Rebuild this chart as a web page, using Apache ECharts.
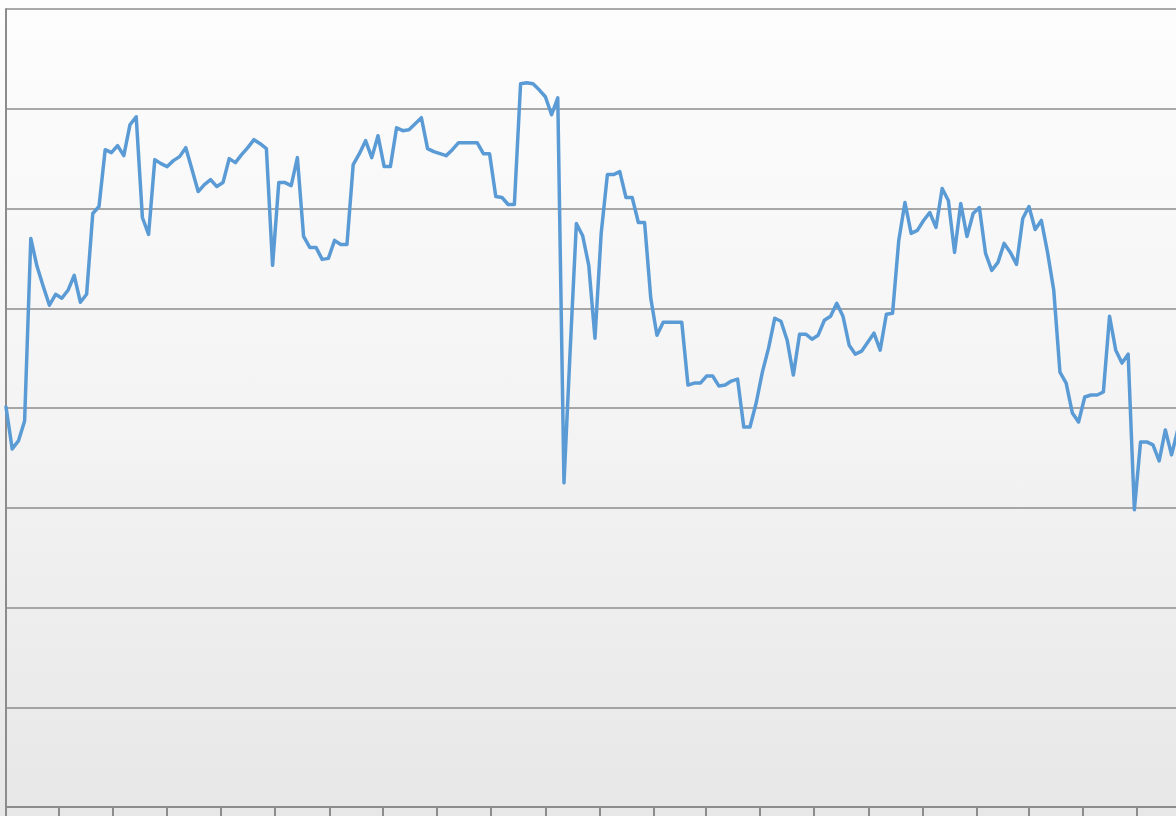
<!DOCTYPE html>
<html>
<head>
<meta charset="utf-8">
<script src="https://cdn.jsdelivr.net/npm/echarts@6/dist/echarts.min.js"></script>
<style>
  html, body { margin: 0; padding: 0; }
  #chart {
    width: 1176px; height: 816px;
    background: linear-gradient(to bottom, #fdfdfd 0%, #f4f4f4 50%, #e7e7e7 100%);
  }
</style>
</head>
<body>
<div id="chart"></div>
<script>
// Weekly series starting on this date
const startDate = '2011-01-01';
const axisEndDate = '2014-08-23';

// Weekly values (one per week)
const values = [
  40.1, 35.9, 36.7, 38.7, 57.0, 54.2, 52.2, 50.3, 51.4, 51.0,
  51.8, 53.3, 50.6, 51.4, 59.5, 60.2, 65.9, 65.6, 66.3, 65.3,
  68.4, 69.2, 59.1, 57.4, 64.9, 64.5, 64.2, 64.8, 65.2, 66.1,
  63.9, 61.7, 62.4, 62.9, 62.2, 62.6, 65.0, 64.6, 65.4, 66.1,
  66.9, 66.5, 66.0, 54.3, 62.6, 62.6, 62.3, 65.1, 57.2, 56.1,
  56.1, 54.9, 55.0, 56.8, 56.4, 56.4, 64.4, 65.5, 66.8, 65.1,
  67.3, 64.2, 64.2, 68.1, 67.8, 67.9, 68.5, 69.1, 66.0, 65.7,
  65.5, 65.3, 65.9, 66.6, 66.6, 66.6, 66.6, 65.5, 65.5, 61.2,
  61.1, 60.4, 60.4, 72.5, 72.6, 72.5, 71.9, 71.2, 69.4, 71.1,
  32.5, 45.8, 58.5, 57.3, 54.3, 47.0, 57.5, 63.4, 63.4, 63.7,
  61.1, 61.1, 58.6, 58.6, 51.0, 47.3, 48.6, 48.6, 48.6, 48.6,
  42.3, 42.5, 42.5, 43.2, 43.2, 42.2, 42.3, 42.7, 42.9, 38.1,
  38.1, 40.5, 43.6, 46.0, 49.0, 48.7, 46.8, 43.3, 47.4, 47.4,
  46.9, 47.3, 48.8, 49.2, 50.5, 49.2, 46.3, 45.4, 45.7, 46.6,
  47.5, 45.8, 49.4, 49.5, 56.8, 60.6, 57.5, 57.8, 58.8, 59.6,
  58.1, 62.0, 60.8, 55.6, 60.5, 57.2, 59.5, 60.1, 55.5, 53.8,
  54.6, 56.5, 55.6, 54.4, 59.0, 60.2, 57.9, 58.8, 55.6, 51.8,
  43.6, 42.5, 39.5, 38.6, 41.1, 41.3, 41.3, 41.6, 49.2, 45.8,
  44.5, 45.4, 29.8, 36.6, 36.6, 36.3, 34.7, 37.8, 35.3, 37.8
];

// Value axis range
const yMin = 0, yMax = 80, yStep = 10;

function fmt(d) {
  const m = String(d.getUTCMonth() + 1).padStart(2, '0');
  const day = String(d.getUTCDate()).padStart(2, '0');
  return d.getUTCFullYear() + '-' + m + '-' + day;
}

// Daily category list for the axis
const days = [];
{
  const d = new Date(startDate + 'T00:00:00Z');
  const end = new Date(axisEndDate + 'T00:00:00Z');
  while (d <= end) { days.push(fmt(d)); d.setUTCDate(d.getUTCDate() + 1); }
}
// Series points on weekly dates
const seriesData = values.map((v, i) => {
  const d = new Date(startDate + 'T00:00:00Z');
  d.setUTCDate(d.getUTCDate() + 7 * i);
  return [fmt(d), v];
});

const pxPerDay = 970.7 / 1096;
const chart = echarts.init(document.getElementById('chart'), null, { renderer: 'canvas' });
chart.setOption({
  backgroundColor: 'transparent',
  animation: false,
  grid: {
    left: 6, top: 9, bottom: 9,
    width: (days.length - 1) * pxPerDay,
    outerBoundsMode: 'none',
    containLabel: false
  },
  xAxis: {
    type: 'category',
    data: days,
    boundaryGap: false,
    axisLine: { show: true, lineStyle: { color: '#8c8c8c', width: 2 } },
    axisTick: {
      show: true,
      length: 12,
      lineStyle: { color: '#8c8c8c', width: 2 },
      interval: function (idx, val) {
        const s = String(val);
        const mm = parseInt(s.slice(5, 7), 10);
        return s.slice(8, 10) === '01' && (mm % 2 === 1);
      }
    },
    axisLabel: { show: false },
    splitLine: { show: false }
  },
  yAxis: {
    type: 'value',
    min: yMin, max: yMax, interval: yStep,
    axisLine: { show: true, lineStyle: { color: '#8c8c8c', width: 2 } },
    axisTick: { show: false },
    axisLabel: { show: false },
    splitLine: { show: true, lineStyle: { color: '#8c8c8c', width: 1.5 } }
  },
  series: [{
    type: 'line',
    data: seriesData,
    showSymbol: false,
    symbol: 'none',
    lineStyle: { color: '#5B9BD5', width: 3.5, cap: 'round', join: 'round' },
    clip: true
  }]
});
</script>
</body>
</html>
